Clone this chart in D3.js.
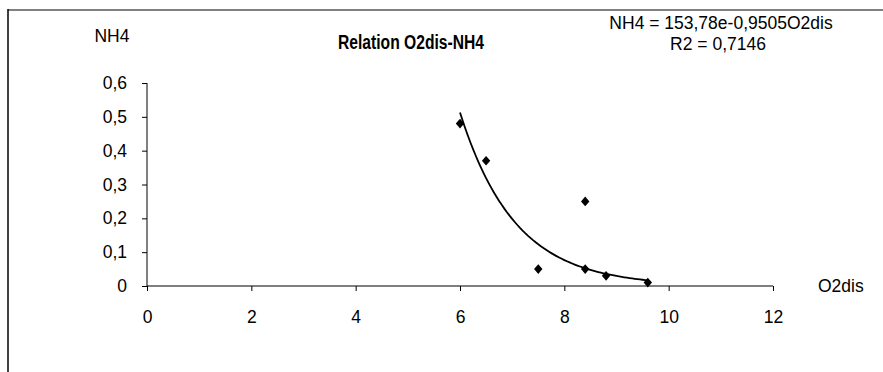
<!DOCTYPE html>
<html>
<head>
<meta charset="utf-8">
<script src="https://cdn.jsdelivr.net/npm/d3@7"></script>
<style>
  html, body { margin: 0; padding: 0; background: #fff; }
  svg { display: block; }
  text { font-family: "Liberation Sans", Arial, sans-serif; fill: #000; }
</style>
</head>
<body>
<svg id="chart" width="883" height="372"></svg>
<script>
// ---- data ----
const o2dis = [6, 6.5, 7.5, 8.4, 8.4, 8.8, 9.6];
const nh4   = [0.48, 0.37, 0.05, 0.25, 0.05, 0.03, 0.01];
const xTicks = [0, 2, 4, 6, 8, 10, 12];
const yTicks = [0, 0.1, 0.2, 0.3, 0.4, 0.5, 0.6];
const trendA = 153.78;     // NH4 = 153,78 e^(-0,9505 O2dis)
const trendB = -0.9505;
const title = "Relation O2dis-NH4";
const eqText = "NH4 = 153,78e-0,9505O2dis";
const r2Text = "R2 = 0,7146";
const xName = "O2dis";
const yName = "NH4";

const fmt = v => String(v).replace(".", ",");
const FS = 17.5;

const svg = d3.select("#chart");

// frame
svg.append("line").attr("x1", 8).attr("x2", 883).attr("y1", 10).attr("y2", 10)
  .attr("stroke", "#808080").attr("stroke-width", 2);
svg.append("line").attr("x1", 8).attr("x2", 8).attr("y1", 9).attr("y2", 372)
  .attr("stroke", "#000").attr("stroke-width", 1.5);

const x = d3.scaleLinear().domain([0, 12]).range([147, 773]);
const y = d3.scaleLinear().domain([0, 0.6]).range([286, 83]);

// x axis
const xAxis = svg.append("g").attr("transform", `translate(0,${y(0)})`)
  .call(d3.axisBottom(x).tickValues(xTicks).tickSize(5).tickPadding(20).tickFormat(fmt));
// y axis
const yAxis = svg.append("g").attr("transform", `translate(${x(0)},0)`)
  .call(d3.axisLeft(y).tickValues(yTicks).tickSize(5).tickPadding(15).tickFormat(fmt));

[xAxis, yAxis].forEach(g => {
  g.select(".domain").attr("stroke", "#000").attr("stroke-width", 1);
  g.selectAll(".tick line").attr("stroke", "#000");
  g.selectAll(".tick text").attr("font-size", FS)
    .attr("font-family", "Liberation Sans, Arial, sans-serif").attr("fill", "#000");
});
xAxis.select(".domain").attr("d", `M${x(0)},0H${x(12)}`);
yAxis.select(".domain").attr("d", `M0,${y(0)}V${y(0.6)}`);

// trendline
const xs = d3.range(o2dis[0], o2dis[o2dis.length - 1] + 0.0001, 0.05);
const line = d3.line().x(d => x(d)).y(d => y(trendA * Math.exp(trendB * d)));
svg.append("path").datum(xs).attr("d", line)
  .attr("fill", "none").attr("stroke", "#000").attr("stroke-width", 1.8);

// points
svg.append("g").selectAll("path").data(o2dis.map((v, i) => [v, nh4[i]])).join("path")
  .attr("transform", d => `translate(${x(d[0])},${y(d[1])})`)
  .attr("d", "M0,-4.8L4.2,0L0,4.8L-4.2,0Z")
  .attr("fill", "#000");

// labels
svg.append("text").attr("x", 112).attr("y", 42).attr("text-anchor", "middle")
  .attr("font-size", FS).text(yName);
svg.append("text").attr("x", 818).attr("y", 292).attr("text-anchor", "start")
  .attr("font-size", FS).text(xName);
svg.append("text").attr("x", 338).attr("y", 49).attr("text-anchor", "start")
  .attr("font-size", 20).attr("font-weight", "bold")
  .attr("textLength", 146).attr("lengthAdjust", "spacingAndGlyphs").text(title);
svg.append("text").attr("x", 721).attr("y", 29).attr("text-anchor", "middle")
  .attr("font-size", FS).text(eqText);
svg.append("text").attr("x", 718).attr("y", 50).attr("text-anchor", "middle")
  .attr("font-size", FS).text(r2Text);
</script>
</body>
</html>
